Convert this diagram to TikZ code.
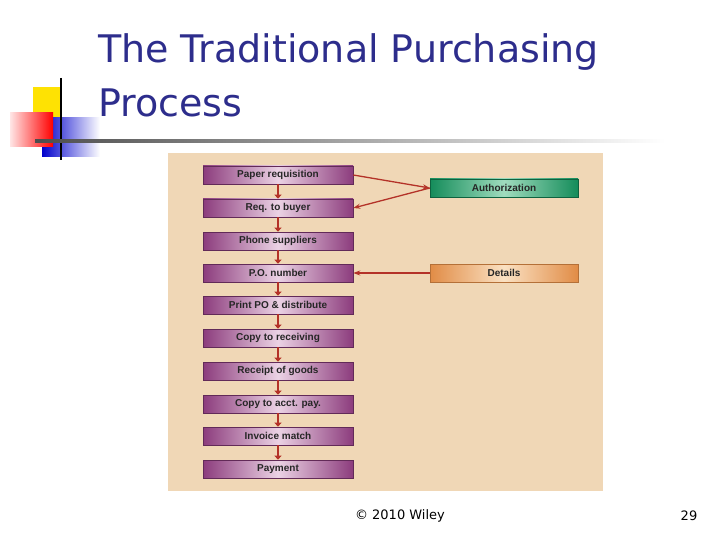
\documentclass[tikz,border=0pt]{standalone}
\usepackage{fontspec}
\setmainfont{DejaVu Sans}
\newfontfamily\arialf{Liberation Sans}
\usetikzlibrary{arrows.meta}
\definecolor{ttl}{RGB}{45,45,140}
\definecolor{panel}{RGB}{240,215,182}
\definecolor{purp}{RGB}{140,60,125}
\definecolor{purpl}{RGB}{235,210,228}
\definecolor{arr}{RGB}{180,50,40}
\definecolor{grn}{RGB}{20,140,90}
\definecolor{grnl}{RGB}{160,220,190}
\definecolor{org}{RGB}{225,140,70}
\definecolor{orgl}{RGB}{250,225,195}
\tikzset{
 stepbox/.style={minimum width=150pt,minimum height=18pt,inner sep=0pt,
   left color=purp,right color=purp,middle color=purpl,draw=purp!70!black,line width=0.6pt,
   font=\arialf\bfseries\fontsize{10}{10}\selectfont,text=black!85},
 gbox/.style={minimum width=148pt,minimum height=18pt,inner sep=0pt,
   left color=grn,right color=grn,middle color=grnl,draw=grn!70!black,
   font=\arialf\bfseries\fontsize{10}{10}\selectfont,text=black!85},
 obox/.style={gbox,left color=org,right color=org,middle color=orgl,draw=org!80!black},
 darr/.style={arr,line width=2pt,-{Triangle[length=4pt,width=7pt]}},
 larr/.style={arr,line width=1.3pt,-{Stealth[length=7pt,width=5pt]}}
}
\begin{document}
\begin{tikzpicture}[x=1pt,y=-1pt]
\useasboundingbox[fill=white] (0,0) rectangle (720,540);
% logo
\fill[yellow!85!orange] (33,87) rectangle (62,117);
\shade[left color=blue!80!black,right color=white] (42,118) rectangle (100,157);
\shade[left color=red!10,right color=red] (10,113) rectangle (53,147);
\draw[black,line width=1.5pt] (61,78) -- (61,160);
\shade[left color=black!70,right color=white] (35,140) rectangle (665,142.5);
% title
\node[anchor=west,text=ttl,font=\fontsize{38}{40}\selectfont,inner sep=0pt] (t1) at (98,52) {The Traditional Purchasing};
\node[anchor=west,text=ttl,font=\fontsize{38}{40}\selectfont,inner sep=0pt] (t2) at (98,103) {Process};
% panel
\fill[panel] (168,153) rectangle (603,491);
\foreach \n/\y/\t in {1/175/Paper requisition,2/208/Req. to buyer,3/241/Phone suppliers,4/273/P.O. number,5/305/Print PO \& distribute,6/338/Copy to receiving,7/371/Receipt of goods,8/404/Copy to acct. pay.,9/436/Invoice match,10/469/Payment}
  \node[stepbox] (s\n) at (278,\y) {\t};
\foreach \a/\b in {1/2,2/3,3/4,4/5,5/6,6/7,7/8,8/9,9/10}
  \draw[darr] (s\a.south) -- (s\b.north);
\node[gbox] (au) at (504,188) {Authorization};
\node[obox] (de) at (504,273) {Details};
\draw[larr] (s1.east) -- (au.west);
\draw[larr] (au.west) -- (s2.east);
\draw[larr] (de.west) -- (s4.east);
% footer
\node[font=\fontsize{13}{14}\selectfont] (f1) at (400,516) {© 2010 Wiley};
\node[font=\fontsize{13}{14}\selectfont] (f2) at (689,516) {29};
\end{tikzpicture}
\end{document}
